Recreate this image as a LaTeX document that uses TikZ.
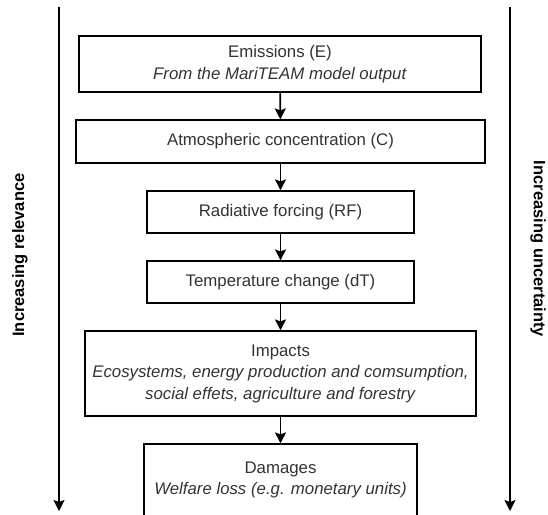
\documentclass[tikz,border=0pt]{standalone}
\usepackage{fontspec}
\setmainfont{Liberation Sans}
\usetikzlibrary{arrows.meta}
\definecolor{txt}{HTML}{333333}
\tikzset{
  stage/.style={draw=black, line width=1.2pt, inner sep=0pt, align=center,
    text=txt, font=\fontsize{16.8}{21.5}\selectfont},
  flow/.style={line width=1.6pt, -{Stealth[length=11pt,width=11pt,inset=2pt]}},
  axis/.style={line width=1.3pt, -{Stealth[length=11pt,width=11pt,inset=2pt]}},
  sidelabel/.style={font=\fontsize{16.5}{20}\selectfont\bfseries, text=black, inner sep=0pt}
}
\begin{document}
\begin{tikzpicture}[x=1pt,y=-1pt]
  \useasboundingbox (0,0) rectangle (548,514);
  \clip (0,0) rectangle (548,514);

  % chain of stages
  \node[stage, minimum width=402pt, minimum height=56pt] (E) at (280,64)
    {Emissions (E)\\\textit{From the MariTEAM model output}};
  \node[stage, minimum width=409pt, minimum height=43pt] (C) at (280.5,141.5)
    {Atmospheric concentration (C)};
  \node[stage, minimum width=267pt, minimum height=42pt] (RF) at (280.5,212)
    {Radiative forcing (RF)};
  \node[stage, minimum width=267pt, minimum height=42pt] (dT) at (280.5,282)
    {Temperature change (dT)};
  \node[stage, minimum width=391pt, minimum height=85pt] (I) at (280.5,373.5)
    {Impacts\\\textit{Ecosystems, energy production and comsumption,}\\\textit{social effets, agriculture and forestry}};
  \node[stage, minimum width=273pt, minimum height=72pt] (D) at (280.5,480)
    {Damages\\\textit{Welfare loss (e.g. monetary units)}};

  \draw[flow] (E) -- (C);
  \draw[flow] (C) -- (RF);
  \draw[flow] (RF) -- (dT);
  \draw[flow] (dT) -- (I);
  \draw[flow] (I) -- (D);

  % side axes
  \coordinate (lt) at (59,7);
  \coordinate (lb) at (59,511);
  \coordinate (rt) at (510,7);
  \coordinate (rb) at (510,511);
  \draw[axis] (lt) -- (lb);
  \draw[axis] (rt) -- (rb);

  \node[sidelabel, rotate=90] (rel) at (20,255) {Increasing relevance};
  \node[sidelabel, rotate=-90] (unc) at (538,249) {Increasing uncertainty};
\end{tikzpicture}
\end{document}
